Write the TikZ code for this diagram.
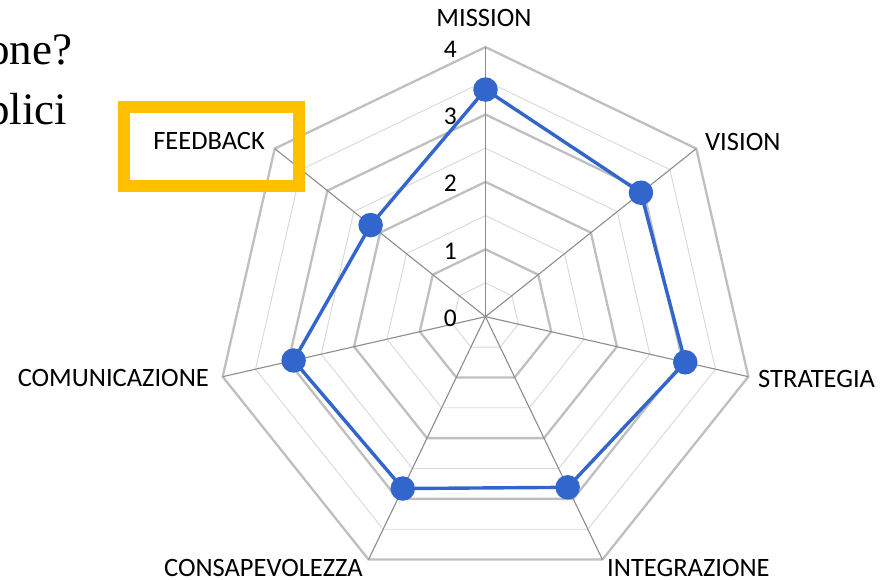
\documentclass[tikz,border=0pt]{standalone}
\usepackage{fontspec}
\setmainfont{Liberation Serif}
\newfontfamily\calib{Carlito}
\definecolor{gridmaj}{HTML}{BFBFBF}
\definecolor{gridmin}{HTML}{D9D9D9}
\definecolor{axisgray}{HTML}{8C8C8C}
\definecolor{serblue}{HTML}{3366CC}
\definecolor{hlorange}{HTML}{FFC000}
\begin{document}
\begin{tikzpicture}[x=1pt,y=1pt,
  major/.style={draw=gridmaj, line width=2.3pt, line join=miter},
  minor/.style={draw=gridmin, line width=0.9pt},
  axisline/.style={draw=axisgray, line width=1.1pt},
  series/.style={draw=serblue, line width=3.4pt, line join=round},
  datadot/.style={circle, fill=serblue, minimum size=24.5pt, inner sep=0pt},
  axlabel/.style={font=\calib\fontsize{26.5}{29}\selectfont, inner sep=0pt},
  ticklabel/.style={font=\calib\fontsize{25.5}{28}\selectfont, inner sep=0pt, anchor=east},
  bgtext/.style={font=\fontsize{45}{50}\selectfont, inner sep=0pt, anchor=base west},
  hlbox/.style={draw=hlorange, line width=12pt, minimum width=175pt, minimum height=79.3pt, inner sep=0pt}
]
\useasboundingbox (0,0) rectangle (891,580);
\fill[white] (0,0) rectangle (891,580);

% partially visible background text
\begin{scope}
\clip (0,0) rectangle (891,580);
\node[bgtext] (t1) at (-13,515) {one?};
\node[bgtext] (t2) at (-13,455) {plici};
\end{scope}

\begin{scope}[shift={(485.5,263.3)}]
  % minor grid
  \foreach \l in {0.5,1.5,2.5,3.5}
    \draw[minor] (90:\l*67.4) \foreach \k in {1,...,6}{ -- ({90-\k*360/7}:\l*67.4)} -- cycle;
  % major grid
  \foreach \l in {1,2,3,4}
    \draw[major] (90:\l*67.4) \foreach \k in {1,...,6}{ -- ({90-\k*360/7}:\l*67.4)} -- cycle;
  % axes
  \coordinate (c0) at (0,0);
  \foreach \k in {0,...,6}
    \draw[axisline] (c0) -- ({90-\k*360/7}:4*67.4);
  % tick labels
  \foreach \l in {0,1,2,3,4}
    \node[ticklabel] (tick\l) at (-28.5,{-1.8+67.4*\l}) {\l};
  % data points
  \node[datadot] (d0) at (90:3.37*67.4) {};
  \node[datadot] (d1) at ({90-1*360/7}:2.95*67.4) {};
  \node[datadot] (d2) at ({90-2*360/7}:3.04*67.4) {};
  \node[datadot] (d3) at ({90-3*360/7}:2.81*67.4) {};
  \node[datadot] (d4) at ({90-4*360/7}:2.83*67.4) {};
  \node[datadot] (d5) at ({90-5*360/7}:2.92*67.4) {};
  \node[datadot] (d6) at ({90-6*360/7}:2.18*67.4) {};
  \draw[series] (d0.center) -- (d1.center) -- (d2.center) -- (d3.center) -- (d4.center) -- (d5.center) -- (d6.center) -- cycle;
\end{scope}

% axis labels
\node[axlabel] (lmission) at (484,562) {MISSION};
\node[axlabel, anchor=west] (lvision) at (705,438) {VISION};
\node[axlabel, anchor=west] (lstrat) at (758,201.5) {STRATEGIA};
\node[axlabel, anchor=west] (linteg) at (607,12) {INTEGRAZIONE};
\node[axlabel, anchor=east] (lconsap) at (363,12) {CONSAPEVOLEZZA};
\node[axlabel, anchor=east] (lcomun) at (209,201.5) {COMUNICAZIONE};
\node[axlabel, anchor=east] (lfeed) at (265,438.5) {FEEDBACK};

% highlight box
\node[hlbox] (hl) at (211.5,433.3) {};
\end{tikzpicture}
\end{document}
